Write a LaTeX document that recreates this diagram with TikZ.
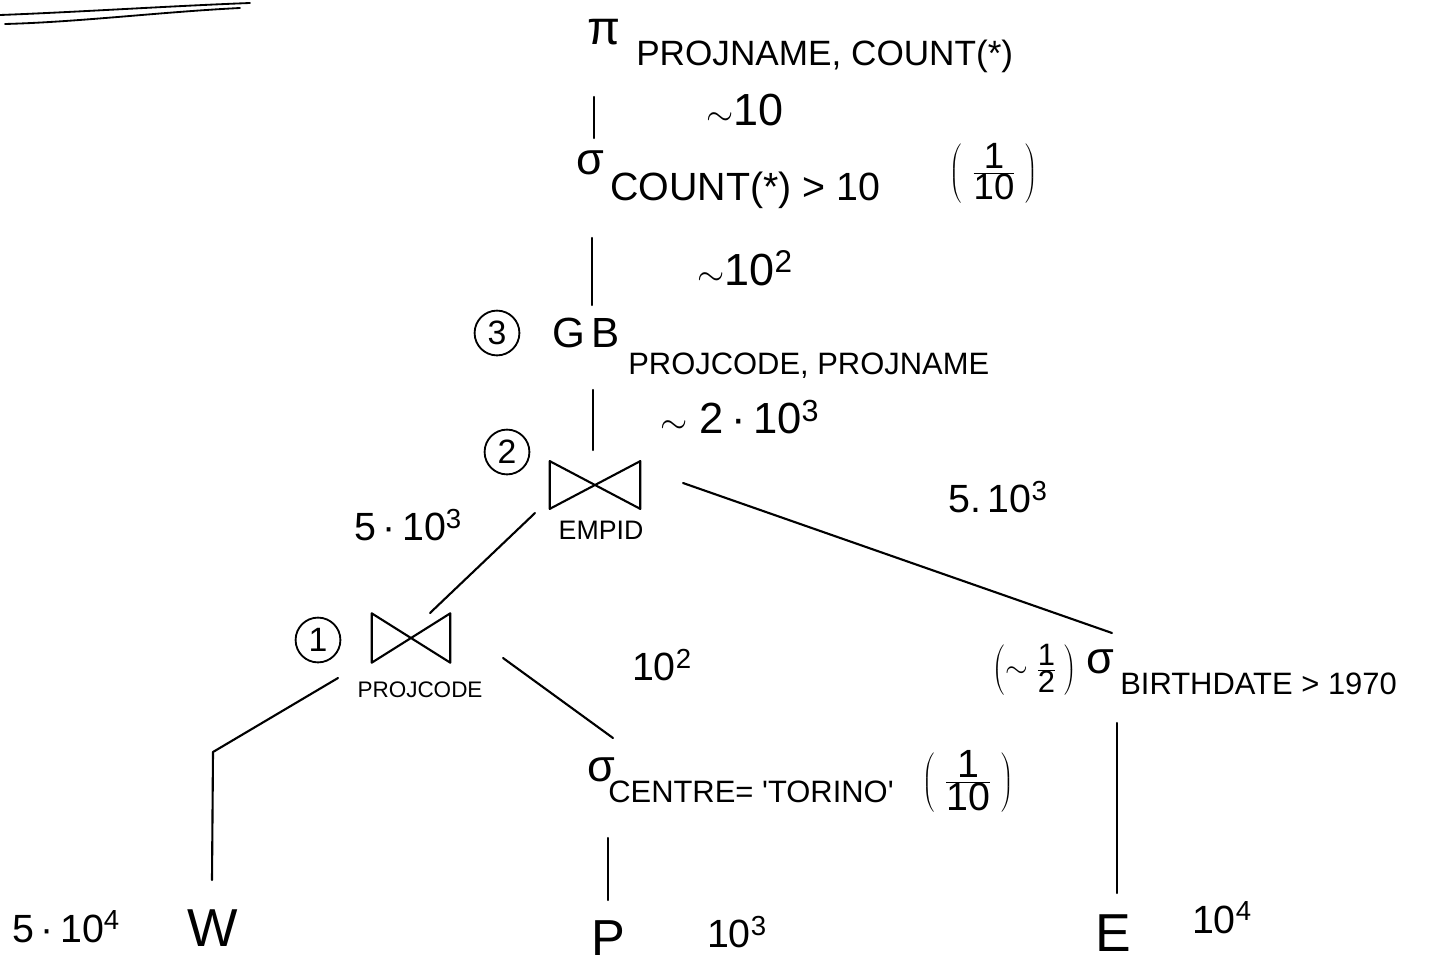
\documentclass[tikz,border=0pt]{standalone}
\usepackage{fontspec}
\setmainfont{Liberation Sans}
\usetikzlibrary{calc}
\newcommand{\fsz}[1]{\fontsize{#1}{#1}\selectfont}
\begin{document}
\begin{tikzpicture}[x=0.025cm,y=-0.025cm]
\tikzset{
  edge/.style={line width=1.5pt, line cap=round, line join=round},
  op/.style={inner sep=0pt, font=\fsz{32}},
  lbl/.style={inner sep=0pt, font=\fsz{28}},
  sub/.style={inner sep=0pt, anchor=west},
  numc/.style={circle, draw, line width=1.3pt, minimum size=1.12cm, inner sep=0pt, font=\fsz{24}},
  joinbox/.style={inner sep=0pt}
}
\useasboundingbox (0,0) rectangle (1439,965);
\fill[white] (0,0) rectangle (1439,965);

% double underline at top left
\draw[edge, line width=1.3pt] (0,15) .. controls (80,12) and (170,6) .. (250,3);
\draw[edge, line width=1.3pt] (5,24) .. controls (80,22) and (160,12) .. (240,8);

% projection
\node[op, font=\fsz{34}] (pi) at (604,32) {π};
\node[sub, font=\fsz{25}] (pisub) at (636,56) {PROJNAME, COUNT(*)};
\node[lbl, font=\fsz{32}] (c1) at (745,110) {$\sim$10};

% selection count
\node[op] (sig1) at (590,163) {σ};
\node[sub, font=\fsz{28}] (sig1sub) at (610,190) {COUNT(*) > 10};
\node[lbl, font=\fsz{26}] (f1) at (994,173) {$\left(\;\frac{\mbox{1}}{\mbox{10}}\;\right)$};
\node[lbl, font=\fsz{32}] (c2) at (745,268) {$\sim$10\textsuperscript{2}};

% group by
\node[numc] (n3) at (497,333) {3};
\node[op, font=\fsz{30}] (gb) at (586,333) {G\,B};
\node[sub, font=\fsz{22}] (gbsub) at (628,366) {PROJCODE, PROJNAME};
\node[lbl, font=\fsz{31}] (c3) at (740,417) {$\sim$\ 2\,·\,10\textsuperscript{3}};

% join 2
\node[numc] (n2) at (507,452) {2};
\node[joinbox, minimum width=2.25cm, minimum height=1.18cm] (j2) at (595,485) {};
\draw[edge] (j2.north west) -- (j2.south east) -- (j2.north east) -- (j2.south west) -- cycle;
\node[lbl, font=\fsz{19}] (j2sub) at (601,530) {EMPID};
\node[lbl] (c4) at (408,525) {5\,·\,10\textsuperscript{3}};
\node[lbl] (c5) at (998,497) {5.\,10\textsuperscript{3}};

% join 1
\node[numc] (n1) at (318,640) {1};
\node[joinbox, minimum width=1.95cm, minimum height=1.22cm] (j1) at (411,638) {};
\draw[edge] (j1.north west) -- (j1.south east) -- (j1.north east) -- (j1.south west) -- cycle;
\node[lbl, font=\fsz{16}] (j1sub) at (420,690) {PROJCODE};
\node[lbl] (c6) at (662,665) {10\textsuperscript{2}};

% selection centre
\node[op] (sigc) at (601,770) {σ};
\node[sub, font=\fsz{22}] (sigcsub) at (608,792) {CENTRE= \textquotesingle TORINO\textquotesingle};
\node[lbl, font=\fsz{28}] (f2) at (968,781) {$\left(\;\frac{\mbox{1}}{\mbox{10}}\;\right)$};

% selection birthdate
\node[op] (sigb) at (1100,662) {σ};
\node[sub, font=\fsz{22}] (sigbsub) at (1120,684) {BIRTHDATE > 1970};
\node[lbl, font=\fsz{22}] (f3) at (1035,670) {$\left(\sim\frac{\mbox{1}}{\mbox{2}}\;\right)$};

% relations
\node[op, font=\fsz{38}] (w) at (213,928) {W};
\node[lbl] (cw) at (66,927) {5\,·\,10\textsuperscript{4}};
\node[op, font=\fsz{36}] (p) at (608,938) {P};
\node[lbl] (cp) at (737,932) {10\textsuperscript{3}};
\node[op, font=\fsz{38}] (e) at (1113,933) {E};
\node[lbl] (ce) at (1222,918) {10\textsuperscript{4}};

% connectors
\draw[edge] ($(pi.center)+(-10,65)$) -- ($(sig1.center)+(4,-25)$);
\draw[edge] ($(sig1.center)+(2,75)$) -- ($(gb.center)+(6,-28)$);
\draw[edge] ($(gb.center)+(7,57)$) -- ($(j2.center)+(-2,-35)$);
\draw[edge] ($(j2.center)+(-60,28)$) -- ($(j1.center)+(19,-25)$);
\draw[edge] ($(j2.center)+(88,-2)$) -- ($(sigb.center)+(12,-29)$);
\draw[edge] ($(j1.center)+(-73,40)$) -- ($(w.center)+(0,-176)$) -- ($(w.center)+(-1,-48)$);
\draw[edge] ($(j1.center)+(92,20)$) -- ($(sigc.center)+(12,-32)$);
\draw[edge] ($(sigc.center)+(7,68)$) -- ($(p.center)+(0,-38)$);
\draw[edge] ($(sigb.center)+(17,61)$) -- ($(e.center)+(4,-40)$);
\end{tikzpicture}
\end{document}
